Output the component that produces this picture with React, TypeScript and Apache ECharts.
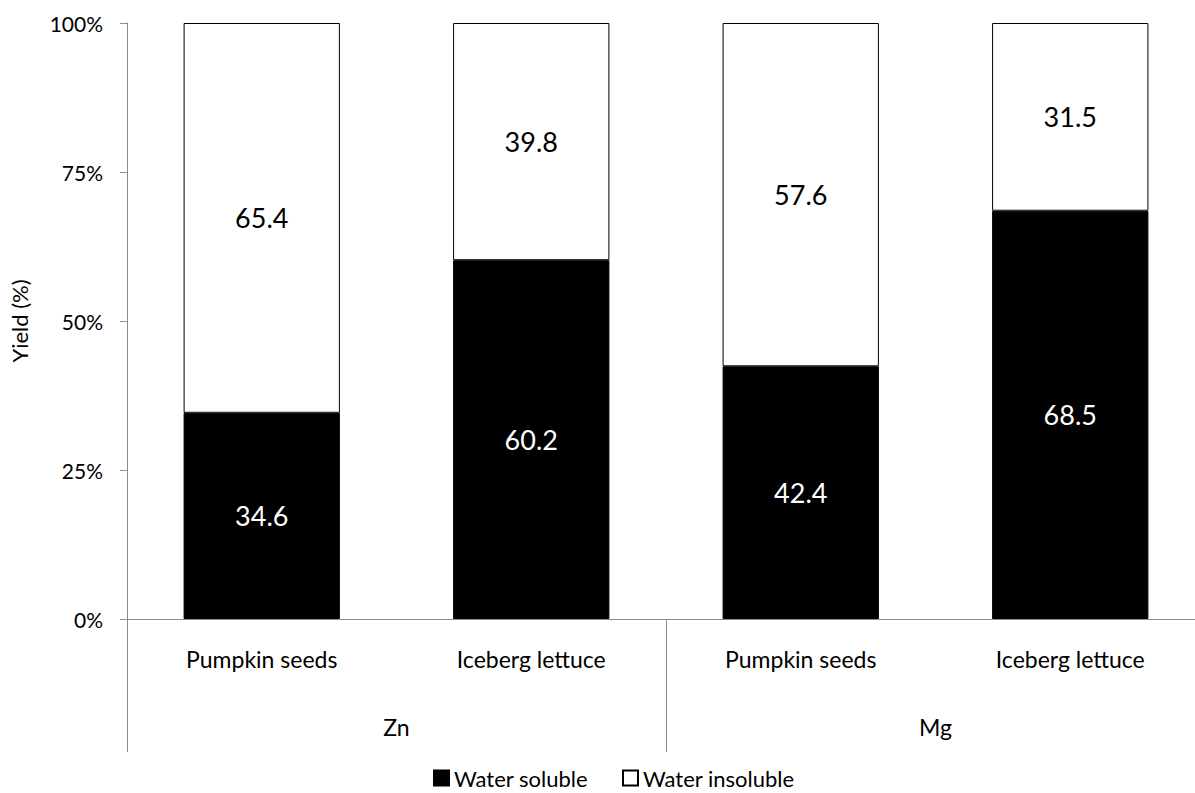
import React, { useEffect, useRef } from "react";
import * as echarts from "echarts";

// Sample types, grouped by element
const samples = ["Pumpkin seeds", "Iceberg lettuce", "Pumpkin seeds", "Iceberg lettuce"];
const elements = ["Zn", "Mg"];
const solubleValues = [34.6, 60.2, 42.4, 68.5];
const insolubleValues = [65.4, 39.8, 57.6, 31.5];
const yTicks = [0, 25, 50, 75, 100];

const FONT = "Lato, 'Open Sans', sans-serif";
const AXIS_GREY = "#8c8c8c";

export default function App() {
  const ref = useRef<HTMLDivElement>(null);

  useEffect(() => {
    if (!ref.current) return;
    const chart = echarts.init(ref.current, undefined, { renderer: "svg" });
    chart.setOption({
      animation: false,
      backgroundColor: "#ffffff",
      textStyle: { fontFamily: FONT, color: "#000" },
      // the plot runs a little past the visible right edge
      grid: { left: 125, right: 0, top: 23, bottom: 174, containLabel: false },
      legend: {
        left: 433,
        top: 767,
        padding: 0,
        icon: "rect",
        itemWidth: 15,
        itemHeight: 15,
        itemGap: 34,
        textStyle: { fontSize: 22, lineHeight: 22, color: "#000", fontFamily: FONT },
        data: ["Water soluble", "Water insoluble"],
      },
      xAxis: [
        {
          type: "category",
          data: samples,
          position: "bottom",
          axisLine: { show: true, lineStyle: { color: AXIS_GREY, width: 1 } },
          axisTick: { show: false },
          axisLabel: { margin: 28, fontSize: 23, color: "#000", fontFamily: FONT, interval: 0 },
        },
        {
          type: "category",
          data: elements,
          position: "bottom",
          axisLine: { show: false },
          axisTick: { show: true, length: 133, lineStyle: { color: AXIS_GREY, width: 1 } },
          axisLabel: { margin: 96, fontSize: 23, color: "#000", fontFamily: FONT },
        },
      ],
      yAxis: {
        type: "value",
        min: yTicks[0],
        max: yTicks[yTicks.length - 1],
        interval: 25,
        name: "Yield (%)",
        nameLocation: "middle",
        nameGap: 97,
        nameTextStyle: { fontSize: 22, color: "#000", fontFamily: FONT },
        axisLine: { show: true, lineStyle: { color: AXIS_GREY, width: 1 } },
        axisTick: { show: true, length: 7, lineStyle: { color: AXIS_GREY } },
        splitLine: { show: false },
        axisLabel: {
          margin: 24,
          fontSize: 21,
          color: "#000",
          fontFamily: FONT,
          formatter: (v: number) => `${v}%`,
        },
      },
      series: [
        {
          name: "Water soluble",
          type: "bar",
          stack: "yield",
          xAxisIndex: 0,
          barCategoryGap: "42%",
          data: solubleValues,
          itemStyle: { color: "#000", borderColor: "#000", borderWidth: 1 },
          label: {
            show: true,
            position: "inside",
            color: "#fff",
            fontSize: 27,
            fontFamily: FONT,
            formatter: (p: any) => p.value.toFixed(1),
          },
        },
        {
          name: "Water insoluble",
          type: "bar",
          stack: "yield",
          xAxisIndex: 0,
          barCategoryGap: "42%",
          data: insolubleValues,
          itemStyle: { color: "#fff", borderColor: "#000", borderWidth: 1 },
          label: {
            show: true,
            position: "inside",
            color: "#000",
            fontSize: 27,
            fontFamily: FONT,
            formatter: (p: any) => p.value.toFixed(1),
          },
        },
      ],
    });
    return () => chart.dispose();
  }, []);

  return (
    <div
      style={{
        position: "fixed",
        left: 0,
        top: 0,
        width: 1195,
        height: 793,
        overflow: "hidden",
        background: "#fff",
      }}
    >
      <div ref={ref} style={{ width: 1205, height: 793 }} />
    </div>
  );
}
